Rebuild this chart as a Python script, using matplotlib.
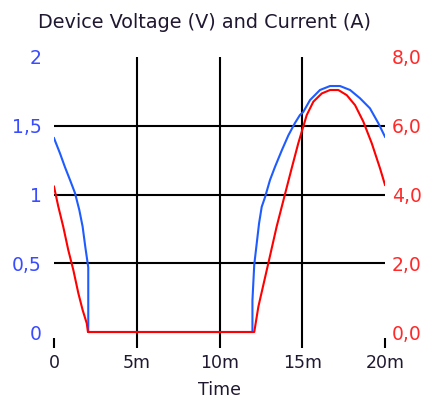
import matplotlib
matplotlib.use('Agg')
import matplotlib.pyplot as plt

# time in ms
volt_t = [0, 0.36, 0.66, 0.97, 1.27, 1.53, 1.73, 1.89, 2.04, 2.07, 2.07,
          11.99, 11.99, 12.10, 12.25, 12.39, 12.55, 12.75, 13.05, 13.35, 13.76,
          14.16, 14.56, 14.86, 15.06, 15.47, 16.07, 16.68, 17.28, 17.89, 18.49,
          19.09, 19.6, 20]
volt_v = [1.41, 1.30, 1.20, 1.105, 1.01, 0.887, 0.766, 0.62, 0.495, 0.47, 0,
          0, 0.23, 0.49, 0.645, 0.79, 0.91, 0.98, 1.105, 1.20, 1.32,
          1.43, 1.52, 1.578, 1.60, 1.687, 1.76, 1.789, 1.789, 1.76, 1.70,
          1.627, 1.518, 1.42]

curr_t = [0, 0.26, 0.56, 0.86, 1.17, 1.47, 1.73, 1.98, 2.05,
          12.1, 12.35, 12.95, 13.45, 13.92, 14.36, 14.76, 14.97, 15.27, 15.67,
          16.18, 16.68, 17.18, 17.69, 18.19, 18.69, 19.2, 19.7, 20]
curr_i = [4.23, 3.65, 3.06, 2.39, 1.80, 1.13, 0.64, 0.25, 0.0,
          0.0, 0.74, 2.0, 3.06, 3.94, 4.76, 5.49, 5.83, 6.31, 6.70,
          6.94, 7.04, 7.04, 6.89, 6.60, 6.12, 5.49, 4.76, 4.28]

time_ticks = [0, 5, 10, 15, 20]
time_labels = ['0', '5m', '10m', '15m', '20m']
volt_ticks = [0, 0.5, 1, 1.5, 2]
volt_labels = ['0', '0,5', '1', '1,5', '2']
curr_ticks = [0, 2, 4, 6, 8]
curr_labels = ['0,0', '2,0', '4,0', '6,0', '8,0']

blue = '#1f5cff'
red = '#ff0000'

fig = plt.figure(figsize=(4.25, 4.01), dpi=100)
ax = fig.add_axes([54 / 425, 1 - 337.5 / 401, 331 / 425, (337.5 - 57) / 401])
ax2 = ax.twinx()

ax.set_xlim(0, 20)
ax.set_ylim(-0.04, 2)
ax2.set_ylim(-0.16, 8)

# grid only on the inner ticks
for v in volt_ticks[1:-1]:
    ax.axhline(v, color='black', lw=1.5, zorder=1)
for t in time_ticks[1:-1]:
    ax.axvline(t, color='black', lw=1.5, zorder=1)

ax.plot(volt_t, volt_v, color=blue, lw=1.5, zorder=3)
ax2.plot(curr_t, curr_i, color=red, lw=1.5, zorder=3)

for a in (ax, ax2):
    for s in a.spines.values():
        s.set_visible(False)

ax.set_xticks(time_ticks)
ax.set_xticklabels(time_labels, fontsize=12.5, color='#201830')
ax.tick_params(axis='x', direction='out', length=7, width=1.5, pad=5)
ax.set_yticks(volt_ticks)
ax.set_yticklabels(volt_labels, fontsize=13.5, color='#3a4cff')
ax.tick_params(axis='y', length=0, pad=9)
ax2.set_yticks(curr_ticks)
ax2.set_yticklabels(curr_labels, fontsize=13.5, color='#ff2a2a')
ax2.tick_params(axis='y', length=0, pad=5)

fig.text(204 / 425, 1 - 22 / 401, 'Device Voltage (V) and Current (A)', fontsize=13.9,
         ha='center', va='center', color='#201830')
fig.text(219 / 425, 1 - 390 / 401, 'Time', fontsize=12.5, ha='center', va='center',
         color='#201830')

fig.savefig('out.png', dpi=100)
